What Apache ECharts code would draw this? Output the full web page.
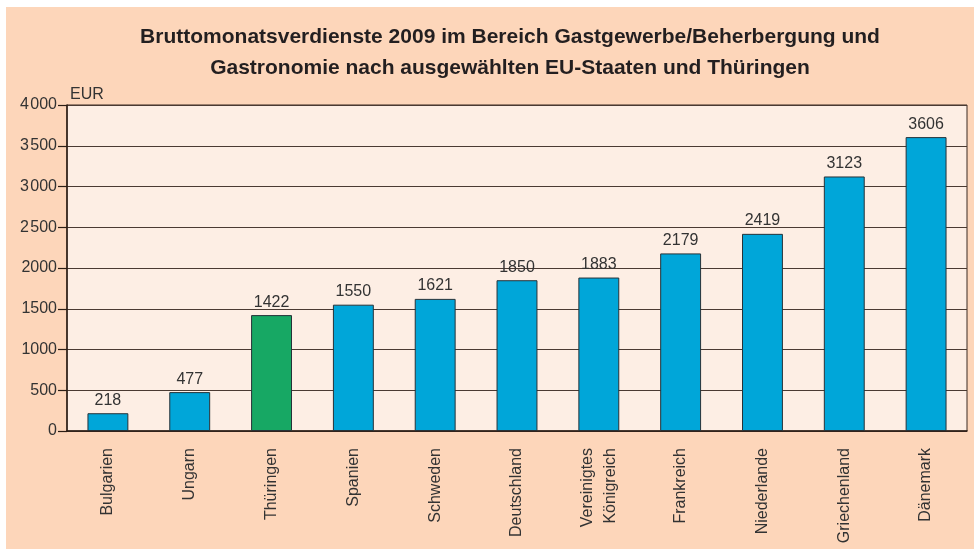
<!DOCTYPE html>
<html>
<head>
<meta charset="utf-8">
<script src="https://cdn.jsdelivr.net/npm/echarts@6/dist/echarts.min.js"></script>
<style>
html,body{margin:0;padding:0;background:#ffffff;width:974px;height:549px;overflow:hidden;}
#c{position:absolute;left:6px;top:7px;width:968px;height:542px;}
</style>
</head>
<body>
<div id="c"></div>
<script>
const categories = ['Bulgarien','Ungarn','Thüringen','Spanien','Schweden','Deutschland','Vereinigtes\nKönigreich','Frankreich','Niederlande','Griechenland','Dänemark'];
const values = [218, 477, 1422, 1550, 1621, 1850, 1883, 2179, 2419, 3123, 3606];
const highlight = 'Thüringen';
const titleLines = ['Bruttomonatsverdienste 2009 im Bereich Gastgewerbe/Beherbergung und', 'Gastronomie nach ausgewählten EU-Staaten und Thüringen'];
const unit = 'EUR';

const chart = echarts.init(document.getElementById('c'), null, {renderer:'canvas'});
const font = 'Liberation Sans, Arial, Helvetica, sans-serif';
chart.setOption({
  backgroundColor: '#FDD6BA',
  animation: false,
  textStyle: {fontFamily: font},
  title: {
    text: titleLines.join('\n'),
    left: 499, top: 10, textAlign: 'center',
    textStyle: {fontSize: 21, fontWeight: 'bold', color: '#231f20', lineHeight: 31, fontFamily: font}
  },
  grid: {left: 61, right: 7, top: 98, bottom: 118, show: true, backgroundColor: '#FDEEE4', borderColor: '#3a2a22', borderWidth: 1},
  xAxis: {
    type: 'category', data: categories,
    axisLine: {lineStyle: {color: '#2b1d14', width: 1.5}},
    axisTick: {show: false},
    axisLabel: {rotate: 90, fontSize: 16, color: '#333', margin: 17, lineHeight: 23, fontFamily: font}
  },
  yAxis: {
    type: 'value', min: 0, max: 4000, interval: 500,
    name: unit, nameLocation: 'end', nameGap: 2,
    nameTextStyle: {align: 'left', fontSize: 16, color: '#333', padding: [0,0,0,3], fontFamily: font},
    axisLine: {show: true, lineStyle: {color: '#2b1d14', width: 1.5}},
    axisTick: {show: true, inside: false, length: 9, lineStyle: {color: '#2b1d14', width: 1.2}},
    axisLabel: {fontSize: 16, color: '#333', margin: 10, fontFamily: font,
      formatter: v => v >= 2500 ? String(v).replace(/^(\d)/, '$1\u200A') : String(v)},
    splitLine: {lineStyle: {color: '#4a3a32', width: 1}}
  },
  series: [{
    type: 'bar', barWidth: '50%',
    data: values.map((v, i) => ({value: v, itemStyle: {color: categories[i] === highlight ? '#17A864' : '#00A6D9'}})),
    itemStyle: {borderColor: '#263238', borderWidth: 1},
    label: {show: true, position: 'top', distance: 5, fontSize: 16, color: '#333', fontFamily: font}
  }]
});
</script>
</body>
</html>
